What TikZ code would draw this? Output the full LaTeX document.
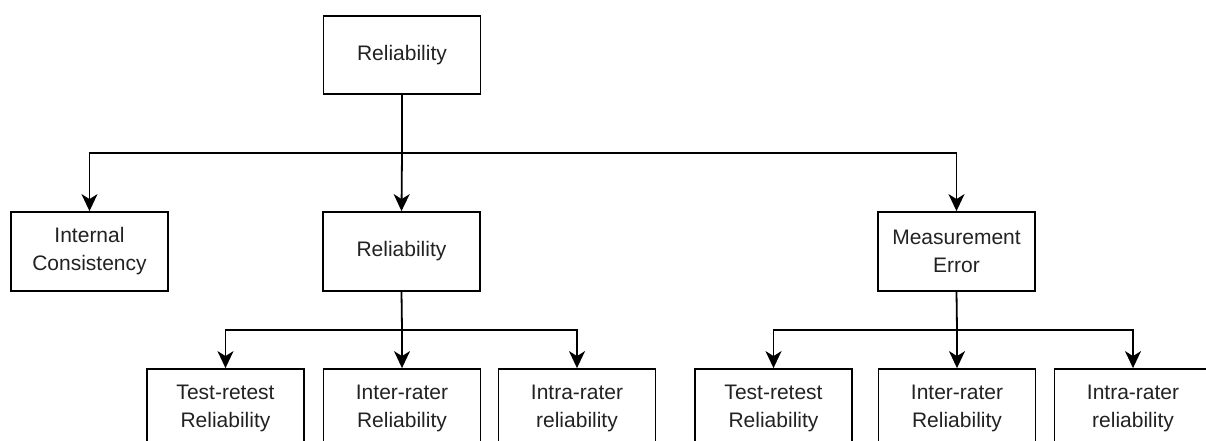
\documentclass[tikz,border=0pt]{standalone}
\usepackage{fontspec}
\setmainfont{Liberation Sans}
\usetikzlibrary{arrows.meta}
\definecolor{inktext}{HTML}{222222}
\tikzset{
  box/.style={draw=black, line width=1.8pt, fill=white, rectangle,
    minimum width=157pt, minimum height=79pt, inner sep=0pt,
    align=center, text width=150pt, text=inktext,
    font=\fontsize{21}{28}\selectfont},
  link/.style={draw=black, line width=1.8pt},
  arr/.style={link, -{Stealth[length=17pt, width=16pt, inset=5pt]}},
}
\begin{document}
\begin{tikzpicture}[x=1pt, y=-1pt]
  \useasboundingbox (0,0) rectangle (1206,441);
  \clip (0,0) rectangle (1206,441);

  % top level
  \node[box, minimum height=78pt] (root) at (402,55) {Reliability};

  % second level
  \node[box] (ic)  at (89.5,251.5)  {Internal\\Consistency};
  \node[box] (rel) at (401.5,251.5) {Reliability};
  \node[box] (me)  at (956.5,251.5) {Measurement\\Error};

  % third level
  \node[box] (rtr) at (225.5,408.5) {Test-retest\\Reliability};
  \node[box] (rir) at (402,408.5)   {Inter-rater\\Reliability};
  \node[box] (rar) at (577,408.5)   {Intra-rater\\reliability};
  \node[box] (mtr) at (773.5,408.5) {Test-retest\\Reliability};
  \node[box] (mir) at (957,408.5)   {Inter-rater\\Reliability};
  \node[box] (mar) at (1133,408.5)  {Intra-rater\\reliability};

  % junction points of the connectors
  \coordinate (busA) at (402,153);
  \coordinate (busB) at (402,330);
  \coordinate (busC) at (957,330);

  % root to second level
  \draw[link] (root.south) -- (busA);
  \draw[arr] (busA) -| (ic.north);
  \draw[arr] (busA) -- (rel.north);
  \draw[arr] (busA) -| (me.north);

  % reliability branch
  \draw[link] (rel.south) -- (busB);
  \draw[arr] (busB) -| (rtr.north);
  \draw[arr] (busB) -- (rir.north);
  \draw[arr] (busB) -| (rar.north);

  % measurement error branch
  \draw[link] (me.south) -- (busC);
  \draw[arr] (busC) -| (mtr.north);
  \draw[arr] (busC) -- (mir.north);
  \draw[arr] (busC) -| (mar.north);
\end{tikzpicture}
\end{document}
